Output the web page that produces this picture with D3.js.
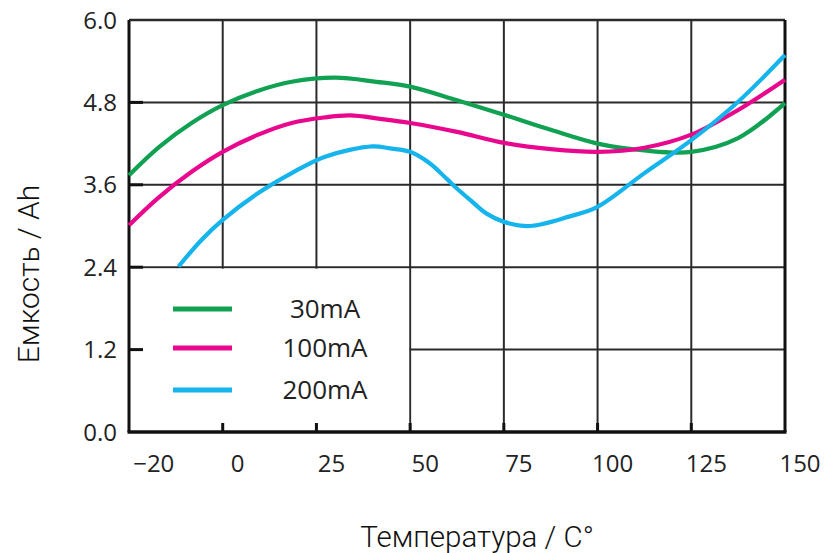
<!DOCTYPE html>
<html><head><meta charset="utf-8">
<script src="https://cdn.jsdelivr.net/npm/d3@7"></script>
<style>body{margin:0;background:#fff}svg{display:block}</style>
</head><body>
<svg id="c" width="828" height="553"></svg>
<script>
// ---- data ----
const xTicks = [-25, 0, 25, 50, 75, 100, 125, 150];
const xTickLabels = [-20, 0, 25, 50, 75, 100, 125, 150];
const yTicks = [0, 1.2, 2.4, 3.6, 4.8, 6.0];
const seriesNames = ["30mA", "100mA", "200mA"];
const seriesColors = ["#10a153", "#e8078d", "#15b4ec"];
const temp30 = [-25, -17, -8.3, 0, 9.5, 18.4, 30, 41, 50, 62.5, 75, 87.5, 100, 112.5, 125, 137.5, 150];
const cap30  = [3.74, 4.15, 4.50, 4.76, 4.97, 5.10, 5.16, 5.10, 5.03, 4.83, 4.62, 4.40, 4.20, 4.10, 4.08, 4.28, 4.79];
const temp100 = [-25, -17.2, -8.3, 0, 9.5, 18.4, 27, 34, 42, 50, 62.5, 75, 87.5, 100, 112.5, 125, 137.5, 150];
const cap100  = [3.01, 3.41, 3.79, 4.08, 4.33, 4.50, 4.58, 4.61, 4.56, 4.50, 4.37, 4.21, 4.12, 4.08, 4.14, 4.33, 4.69, 5.13];
const temp200 = [-11.8, -5.6, 0, 9.5, 18.4, 27.3, 40, 44.6, 50, 55.3, 59.7, 62.4, 66, 70.4, 75, 82, 92.6, 100, 112.5, 125, 137.5, 150];
const cap200  = [2.41, 2.80, 3.09, 3.48, 3.77, 4.01, 4.16, 4.13, 4.08, 3.91, 3.69, 3.55, 3.38, 3.18, 3.06, 3.00, 3.14, 3.28, 3.77, 4.25, 4.81, 5.49];

const svg = d3.select("#c");
const L = 129, R = 785, T = 20, B = 432;
const x = d3.scaleLinear().domain([-25, 150]).range([L, R]);
const y = d3.scaleLinear().domain([0, 6]).range([B, T]);
const grid = "#2a2a2a";
const tickFont = "'Open Sans', sans-serif";

// grid
const g = svg.append("g");
g.selectAll(".vg").data(xTicks.slice(1, -1)).join("line")
  .attr("x1", d => x(d)).attr("x2", d => x(d)).attr("y1", T).attr("y2", B)
  .attr("stroke", grid).attr("stroke-width", 2);
g.selectAll(".hg").data(yTicks.slice(1, -1)).join("line")
  .attr("x1", L).attr("x2", R).attr("y1", d => y(d)).attr("y2", d => y(d))
  .attr("stroke", grid).attr("stroke-width", 2);

// legend box (white, covers grid)
const legX0 = L, legX1 = x(50), legY0 = y(2.4), legY1 = B;
g.append("rect").attr("x", legX0 + 1).attr("y", legY0 + 1.5)
  .attr("width", legX1 - legX0 - 2).attr("height", legY1 - legY0 - 1.5).attr("fill", "#fff");

// ticks inside
g.selectAll(".yt").data(yTicks.slice(1, -1)).join("line")
  .attr("x1", L).attr("x2", L + 14).attr("y1", d => y(d)).attr("y2", d => y(d))
  .attr("stroke", "#111").attr("stroke-width", 3);
g.selectAll(".xt").data(xTicks.slice(1, -1)).join("line")
  .attr("x1", d => x(d)).attr("x2", d => x(d)).attr("y1", B).attr("y2", B - 9)
  .attr("stroke", "#111").attr("stroke-width", 3);

// frame
g.append("line").attr("x1", L).attr("x2", R).attr("y1", T).attr("y2", T).attr("stroke", grid).attr("stroke-width", 2.5);
g.append("line").attr("x1", L).attr("x2", L).attr("y1", T).attr("y2", B).attr("stroke", "#111").attr("stroke-width", 3);
g.append("line").attr("x1", R).attr("x2", R).attr("y1", T).attr("y2", B).attr("stroke", "#111").attr("stroke-width", 3);
g.append("line").attr("x1", L - 1.5).attr("x2", R + 1.5).attr("y1", B).attr("y2", B).attr("stroke", "#111").attr("stroke-width", 3.5);

// curves
const line = d3.line().x(d => x(d[0])).y(d => y(d[1])).curve(d3.curveCatmullRom.alpha(0.5));
const series = [
  d3.zip(temp30, cap30),
  d3.zip(temp100, cap100),
  d3.zip(temp200, cap200)
];
svg.append("g").selectAll("path").data(series).join("path")
  .attr("d", line).attr("fill", "none")
  .attr("stroke", (d, i) => seriesColors[i]).attr("stroke-width", 4.2)
  .attr("stroke-linecap", "butt");

// y tick labels
svg.append("g").selectAll("text").data(yTicks).join("text")
  .attr("x", 117).attr("y", d => y(d)).attr("dy", "0.36em")
  .attr("text-anchor", "end").attr("font-family", tickFont).attr("font-size", 24)
  .attr("fill", "#222").text(d => d.toFixed(1));

// x tick labels
svg.append("g").selectAll("text").data(xTickLabels).join("text")
  .attr("x", d => x(d) + (d < 0 ? 6 : 15)).attr("y", 472)
  .attr("text-anchor", "middle").attr("font-family", tickFont).attr("font-size", 24)
  .attr("fill", "#222").text(d => d < 0 ? "\u2212" + Math.abs(d) : d);

// legend
const leg = svg.append("g");
seriesNames.forEach((n, i) => {
  const yy = [309, 348, 390][i];
  leg.append("line").attr("x1", 173).attr("x2", 232).attr("y1", yy).attr("y2", yy)
    .attr("stroke", seriesColors[i]).attr("stroke-width", 5);
  leg.append("text").attr("x", 325).attr("y", yy).attr("dy", "0.36em")
    .attr("text-anchor", "middle").attr("font-family", tickFont).attr("font-size", 26)
    .attr("fill", "#222").text(n);
});

// axis titles
svg.append("text").attr("x", 477).attr("y", 547).attr("text-anchor", "middle")
  .attr("font-family", "Roboto, sans-serif").attr("font-weight", 300).attr("font-size", 29.5)
  .attr("fill", "#111").text("Температура / С°");
svg.append("text").attr("transform", "translate(39,274) rotate(-90)").attr("text-anchor", "middle")
  .attr("font-family", "Roboto, sans-serif").attr("font-weight", 300).attr("font-size", 30)
  .attr("fill", "#111").text("Емкость / Ah");
</script>
</body></html>
